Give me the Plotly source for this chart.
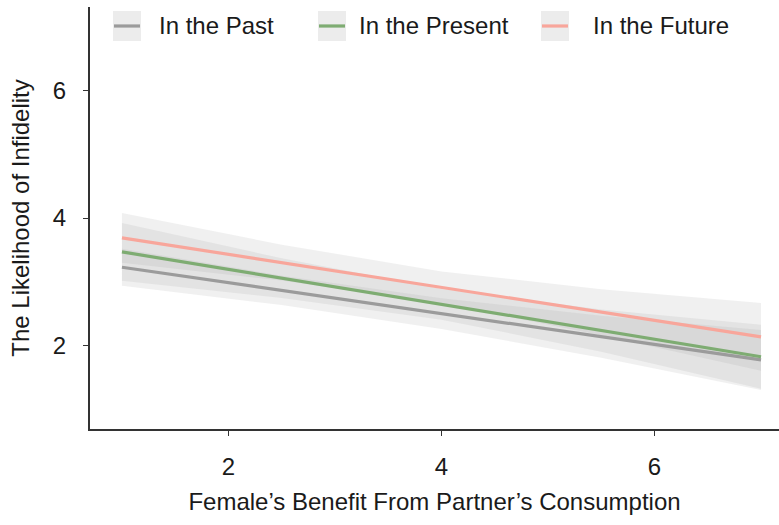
import plotly.graph_objects as go

# Fitted lines (value at x = 1 and x = 7) and confidence half-widths along x
x_ends = [1, 7]
x_band = [1, 2.5, 4, 5.5, 7]

series = ["In the Past", "In the Present", "In the Future"]
fit_past = [3.23, 1.78]
fit_present = [3.47, 1.83]
fit_future = [3.69, 2.14]
hw_past = [0.29, 0.23, 0.24, 0.33, 0.47]
hw_present = [0.45, 0.31, 0.24, 0.33, 0.50]
hw_future = [0.39, 0.28, 0.25, 0.36, 0.53]

x_ticks = [2, 4, 6]
y_ticks = [2, 4, 6]

colors = ["#9b9b9b", "#7eac72", "#f8a69b"]
fits = [fit_past, fit_present, fit_future]
hws = [hw_past, hw_present, hw_future]

FONT = "Liberation Sans"
FS = 24
W, H = 779, 525
ML, MR, MT, MB = 90, 0, 7, 96


def line_at(fit, x):
    return fit[0] + (fit[1] - fit[0]) * (x - x_ends[0]) / (x_ends[1] - x_ends[0])


fig = go.Figure()

# confidence bands
for fit, hw in zip(fits, hws):
    upper = [line_at(fit, x) + h for x, h in zip(x_band, hw)]
    lower = [line_at(fit, x) - h for x, h in zip(x_band, hw)]
    fig.add_trace(go.Scatter(
        x=x_band + x_band[::-1], y=upper + lower[::-1],
        fill="toself", fillcolor="rgba(153,153,153,0.15)",
        line=dict(width=0), mode="lines",
        hoverinfo="skip", showlegend=False))

# fitted lines
for name, fit, col in zip(series, fits, colors):
    fig.add_trace(go.Scatter(x=x_ends, y=fit, mode="lines", name=name,
                             line=dict(color=col, width=3.2), showlegend=False))

# legend drawn along the top edge
plot_w = W - ML - MR
plot_h = H - MT - MB


def px_x(p):
    return (p - ML) / plot_w


def px_y(p):
    return (H - MB - p) / plot_h


key_left = [113, 318, 541]
text_left = [157, 357, 591]
key_w, key_top, key_bot = 28, 11, 41
for name, col, kx, tx in zip(series, colors, key_left, text_left):
    fig.add_shape(type="rect", xref="paper", yref="paper",
                  x0=px_x(kx), x1=px_x(kx + key_w), y0=px_y(key_bot), y1=px_y(key_top),
                  fillcolor="#ececec", line=dict(width=0), layer="above")
    fig.add_shape(type="line", xref="paper", yref="paper",
                  x0=px_x(kx + 1), x1=px_x(kx + key_w - 1),
                  y0=px_y((key_top + key_bot) / 2), y1=px_y((key_top + key_bot) / 2),
                  line=dict(color=col, width=3.2), layer="above")
    fig.add_annotation(x=px_x(tx), y=px_y((key_top + key_bot) / 2), xref="paper", yref="paper",
                       text=name, showarrow=False, xanchor="left", yanchor="middle",
                       font=dict(family=FONT, size=FS, color="#1a1a1a"))

axis_common = dict(
    showgrid=False, zeroline=False, showline=True, linecolor="#333333", linewidth=2,
    ticks="outside", ticklen=5, tickwidth=1.2, tickcolor="#333333",
    tickfont=dict(family=FONT, size=FS, color="#1a1a1a"),
)

fig.update_xaxes(range=[0.7, 0.7 + 6.6 * plot_w / 703], tickvals=x_ticks,
                 ticklabelstandoff=10,
                 title=dict(text="Female’s Benefit From Partner’s Consumption",
                            font=dict(family=FONT, size=FS, color="#1a1a1a"), standoff=14),
                 **axis_common)
fig.update_yaxes(range=[0.7, 7.3], tickvals=y_ticks, ticklabelstandoff=12,
                 title=dict(text="The Likelihood of Infidelity",
                            font=dict(family=FONT, size=FS, color="#1a1a1a"), standoff=16),
                 **axis_common)

fig.update_layout(width=W, height=H, margin=dict(l=ML, r=MR, t=MT, b=MB),
                  plot_bgcolor="white", paper_bgcolor="white", showlegend=False)

fig.write_html("out.html")
